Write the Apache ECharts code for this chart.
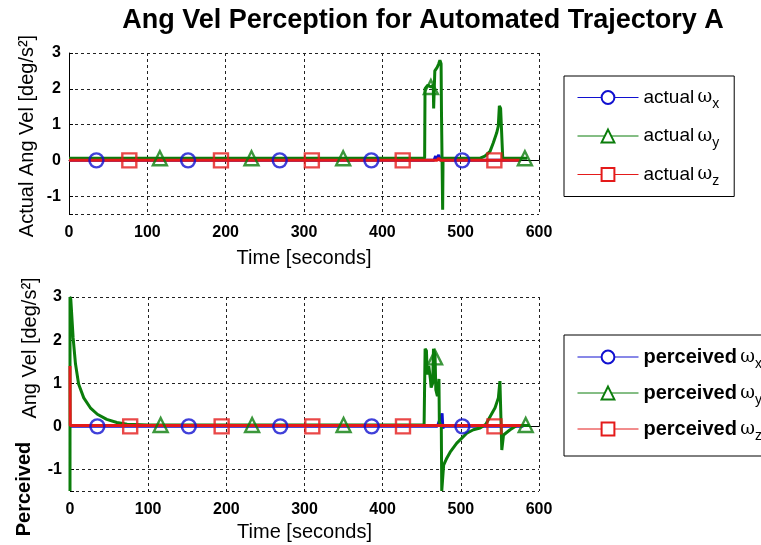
<!DOCTYPE html>
<html>
<head>
    <meta charset="utf-8">
    <title>Ang Vel Perception</title>
    <script src="https://cdn.jsdelivr.net/npm/echarts@6/dist/echarts.min.js"></script>
</head>
<body style="margin:0">

<style>
	#chart {
		width: 761px;
		height: 545px;
	}
</style>

    <div id="chart"></div>

    <script type="text/javascript">
// data: [time, value]
var actualX = [[0,0],[466,0],[468,0.12],[469,0],[472,0.15],[474,0],[575,0]];
var actualY = [[0,0.06],[454,0.06],[454.5,2.0],[458,2.1],[462,2.05],[465,2.1],[465.5,1.45],[466.5,1.5],[467,2.5],[470,2.6],[472,2.7],[473.5,2.8],[475,2.7],[475.5,1.35],[476.5,1.3],[477,-1.38],[477.5,0.06],
	[525,0.06],[531,0.12],[537.5,0.25],[541.7,0.49],[546,0.77],[548,0.95],[549.4,1.52],[551,1.45],[552.4,1.4],[553.7,0.06],[585,0.06]];
var actualZ = [[0,0],[470,0],[472,0.06],[474,0],[576,0]];

var percX = [[0,0],[470,0],[476,0.3],[477,-0.05],[478,0],[580,0]];
var percY = [[0,-1.5],[0,3],[1,2.95],[4,2.05],[7,1.45],[11,0.98],[17.6,0.66],[26,0.43],[35,0.28],[47,0.16],[60,0.09],[73,0.05],[100,0.03],
	[453,0.03],[454.3,1.8],[456,1.75],[457,1.2],[459,1.4],[461,1.1],[462,0.9],[464,1.0],[465,1.8],[467,1.65],[468,0.85],[470,0.7],[471,0.9],[472,1.1],[472.5,0.1],[475,0.0],[475.6,-1.5],[477.7,-1.5],[478,-0.9],
	[482,-0.74],[486.3,-0.6],[494.8,-0.39],[507.6,-0.16],[516,-0.08],[524.6,-0.04],[532,0.05],[543.8,0.43],[548,0.66],[550,1.05],[552.4,-0.55],[554.6,-0.2],[563,-0.08],[571.5,0.02],[588,0.02]];
var percZ = [[0,1.4],[0.3,0.02],[579,0.02]];

// marker positions
var markX_circle = [35, 152, 269, 386, 502];
var markX_square = [77, 194, 310, 426, 543];
var markX_triTop = [116, 233, 350, 462, 582];
var markX_triBot = [116, 233, 350, 467, 583];
var markY_triTop = [0.06, 0.06, 0.06, 2.05, 0.06];
var markY_triBot = [0.03, 0.03, 0.03, 1.6, 0.03];

var xTicks = [0, 600, 100];
var yRange = [-1.5, 3];

var names = ['actual ωx', 'actual ωy', 'actual ωz', 'perceived ωx', 'perceived ωy', 'perceived ωz'];
var colors = ['#1010d0', '#0b7d0b', '#e41a1a'];

        var chart = echarts.init(document.getElementById('chart'));

function pts(xs, ys) {
	var out = [];
	for (var i = 0; i < xs.length; i++) out.push([xs[i], ys === null ? 0 : ys[i]]);
	return out;
}

function lineS(name, data, c, idx, sym) {
	return { name: name, type: 'line', xAxisIndex: idx, yAxisIndex: idx, data: data,
		symbol: sym, showSymbol: false, symbolSize: 11, color: c,
		lineStyle: { width: 3, color: c }, animation: false };
}
function markS(name, data, c, idx, sym) {
	return { name: name, type: 'scatter', xAxisIndex: idx, yAxisIndex: idx, data: data,
		symbol: sym, symbolSize: 14, z: 3,
		itemStyle: { color: 'rgba(0,0,0,0)', borderColor: c, borderWidth: 2.4 }, animation: false };
}

var xAx = function (idx) {
	return { type: 'value', gridIndex: idx, min: xTicks[0], max: xTicks[1], interval: xTicks[2],
		name: 'Time [seconds]', nameLocation: 'middle', nameGap: idx === 0 ? 34 : 31,
		nameTextStyle: { fontSize: 20, color: '#000', fontFamily: 'Liberation Sans' },
		axisLine: { lineStyle: { color: '#000' } },
		axisTick: { inside: true, length: 4, lineStyle: { color: '#000' } },
		axisLabel: { fontSize: 16, fontWeight: 'bold', color: '#000', margin: 11, fontFamily: 'Liberation Sans' },
		splitLine: { show: true, lineStyle: { color: '#222', type: [3, 3], width: 1 } } };
};
var yAx = function (idx) {
	return { type: 'value', gridIndex: idx, min: yRange[0], max: yRange[1], splitNumber: 5,
		axisLine: { show: true, lineStyle: { color: '#000' } },
		axisTick: { show: true, inside: true, length: 4, lineStyle: { color: '#000' } },
		axisLabel: { fontSize: 16, fontWeight: 'bold', color: '#000', margin: 8, fontFamily: 'Liberation Sans',
			formatter: function (v) { return Number.isInteger(v) ? String(v) : ''; } },
		splitLine: { show: true, lineStyle: { color: '#222', type: [3, 3], width: 1 } } };
};

var rich = {
	a: { fontSize: 19, color: '#000', fontFamily: 'Liberation Sans', lineHeight: 28 },
	b: { fontSize: 20, color: '#000', fontWeight: 'bold', fontFamily: 'Liberation Sans', lineHeight: 28 },
	w: { fontSize: 18, color: '#000', fontFamily: 'DejaVu Serif', lineHeight: 28 },
	s: { fontSize: 14, color: '#000', fontFamily: 'Liberation Sans', lineHeight: 12, verticalAlign: 'bottom' }
};
function legendFmt(name) {
	var parts = name.split(' ');
	var word = parts[0], sub = parts[1].slice(1);
	var tag = word === 'actual' ? 'a' : 'b';
	return '{' + tag + '|' + word + '} {w|ω}{s|' + sub + '}';
}

chart.setOption({
	backgroundColor: '#fff',
	title: { text: 'Ang Vel Perception for Automated Trajectory A', left: 418, top: 2, textAlign: 'center',
		textStyle: { fontSize: 27, fontWeight: 'bold', color: '#000', fontFamily: 'Liberation Sans' } },
	legend: [
		{ data: names.slice(0, 3), orient: 'vertical', left: 564, top: 76, itemWidth: 61, itemHeight: 16, itemGap: 15,
		  padding: [12, 15, 8, 13], borderColor: '#000', borderWidth: 1, backgroundColor: '#fff',
		  lineStyle: { width: 1 }, itemStyle: { borderWidth: 1 }, formatter: legendFmt, textStyle: { rich: rich } },
		{ data: names.slice(3), orient: 'vertical', left: 564, top: 335, itemWidth: 61, itemHeight: 16, itemGap: 12,
		  padding: [12, 40, 13, 13], borderColor: '#000', borderWidth: 1, backgroundColor: '#fff',
		  lineStyle: { width: 1 }, itemStyle: { borderWidth: 1 }, formatter: legendFmt, textStyle: { rich: rich } }
	],
	grid: [
		{ left: 69, right: 222, top: 53, height: 161 },
		{ left: 70, right: 222, top: 297, height: 194 }
	],
	xAxis: [xAx(0), xAx(1)],
	yAxis: [yAx(0), yAx(1)],
	graphic: [
		{ type: 'text', x: 27, y: 136, rotation: Math.PI / 2,
		  style: { text: 'Actual Ang Vel [deg/s²]', fontSize: 20, fill: '#000', fontFamily: 'Liberation Sans', align: 'center', verticalAlign: 'middle' } },
		{ type: 'text', x: 30, y: 348, rotation: Math.PI / 2,
		  style: { text: 'Ang Vel [deg/s²]', fontSize: 20, fill: '#000', fontFamily: 'Liberation Sans', align: 'center', verticalAlign: 'middle' } },
		{ type: 'text', x: 24, y: 489, rotation: Math.PI / 2,
		  style: { text: 'Perceived', fontSize: 20, fontWeight: 'bold', fill: '#000', fontFamily: 'Liberation Sans', align: 'center', verticalAlign: 'middle' } }
	],
	series: [
		lineS(names[0], actualX, colors[0], 0, 'emptyCircle'),
		lineS(names[1], actualY, colors[1], 0, 'emptyTriangle'),
		lineS(names[2], actualZ, colors[2], 0, 'emptyRect'),
		markS(names[0], pts(markX_circle, null), colors[0], 0, 'circle'),
		markS(names[1], pts(markX_triTop, markY_triTop), colors[1], 0, 'triangle'),
		markS(names[2], pts(markX_square, null), colors[2], 0, 'rect'),
		lineS(names[3], percX, colors[0], 1, 'emptyCircle'),
		lineS(names[4], percY, colors[1], 1, 'emptyTriangle'),
		lineS(names[5], percZ, colors[2], 1, 'emptyRect'),
		markS(names[3], pts(markX_circle, null), colors[0], 1, 'circle'),
		markS(names[4], pts(markX_triBot, markY_triBot), colors[1], 1, 'triangle'),
		markS(names[5], pts(markX_square, null), colors[2], 1, 'rect')
	]
});
    </script>
</body>
</html>
